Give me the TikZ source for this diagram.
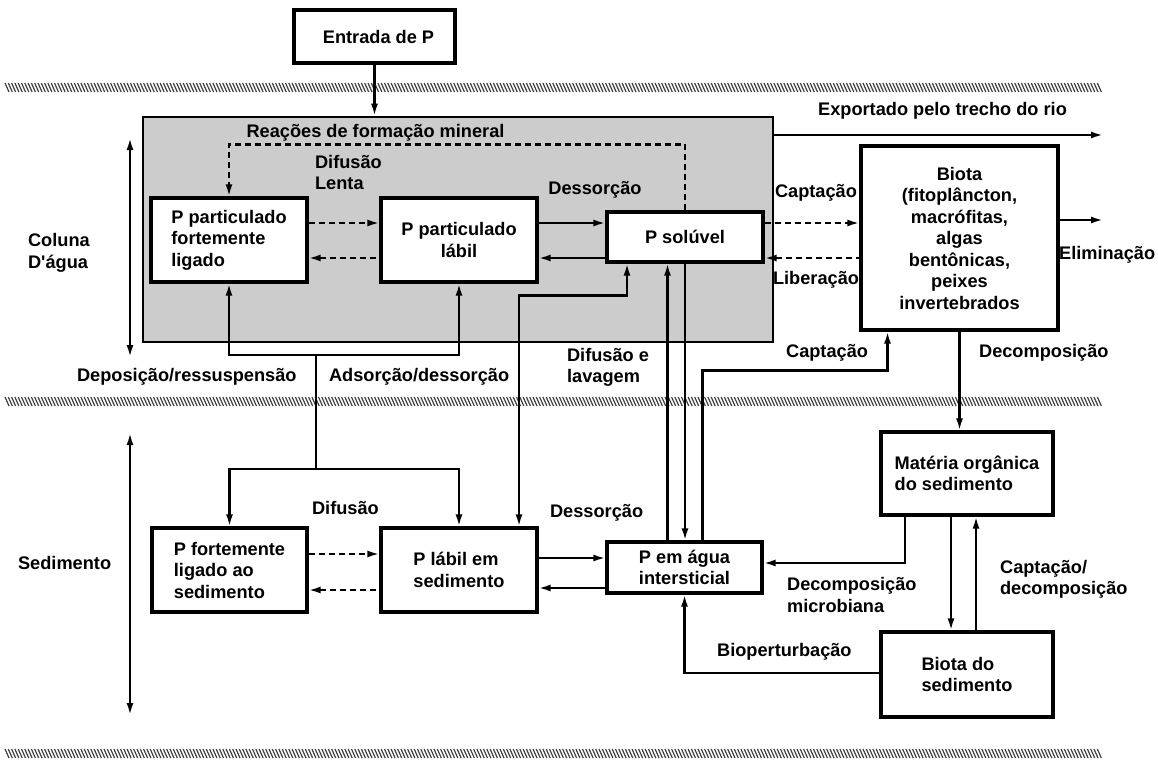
\documentclass[tikz,border=0pt]{standalone}
\usepackage{fontspec}
\setmainfont{Liberation Sans}
\usetikzlibrary{arrows.meta}

\begin{document}
\begin{tikzpicture}[x=1pt,y=-1pt,line width=2.2pt,>={Latex[length=12pt,width=7pt]},
    font=\fontsize{18.2}{21.5}\selectfont\bfseries,
    pbox/.style={draw,line width=3.2pt,fill=white,inner sep=0pt,align=center},
    rot/.style={inner sep=0pt,align=left},
    trac/.style={dash pattern=on 6pt off 4pt}]
    \useasboundingbox (0,0) rectangle (1158,760);

    \foreach \yb in {83,397,749}
      \foreach \xb in {5,8.3,...,1100}
        \path[draw,line width=1.2pt,black!75] (\xb,\yb) -- ++(4,9);

    \node (agua) [draw,line width=2.6pt,fill=gray!40,inner sep=0pt,minimum width=630pt,minimum height=225pt] at (458,229.5) {};

    \node (entrada) [pbox,minimum width=161pt,minimum height=53pt] at (374.5,36.5) {\hspace*{8pt}Entrada de P};
    \node (pfl) [pbox,align=left,minimum width=156pt,minimum height=84pt] at (229,240) {P particulado\\fortemente\\ligado};
    \node (ppl) [pbox,minimum width=156pt,minimum height=84pt] at (459,240) {P particulado\\lábil};
    \node (psol) [pbox,minimum width=156pt,minimum height=50pt] at (685,237) {P solúvel};
    \node (biota) [pbox,minimum width=197pt,minimum height=184pt] at (959.5,238) {Biota\\(fitoplâncton,\\macrófitas,\\algas\\bentônicas,\\peixes\\invertebrados};
    \node (pfs) [pbox,align=left,minimum width=155pt,minimum height=84pt] at (229.5,570) {P fortemente\\ligado ao\\sedimento};
    \node (pls) [pbox,align=left,minimum width=156pt,minimum height=84pt] at (459,570) {P lábil em\\sedimento};
    \node (pai) [pbox,align=left,minimum width=155pt,minimum height=51pt] at (684.5,567.5) {P em água\\intersticial};
    \node (mos) [pbox,align=left,minimum width=172pt,minimum height=83pt] at (967,473.5) {Matéria orgânica\\do sedimento};
    \node (bsed) [pbox,align=left,minimum width=172pt,minimum height=85pt] at (967,674.5) {Biota do\\sedimento};

    \node[rot] (lreac) at (375.5,133) {Reações de formação mineral};
    \node[rot,anchor=west] (ldif) at (314,172.5) {Difusão\\Lenta};
    \node[rot] (ldes) at (595,190) {Dessorção};
    \node[rot] (lexp) at (942.5,111) {Exportado pelo trecho do rio};
    \node[rot] (lcap) at (816,193) {Captação};
    \node[rot] (llib) at (816,280) {Liberação};
    \node[rot,anchor=west] (lelim) at (1058,255) {Eliminação};
    \node[rot,anchor=west] (lcol) at (27,253) {Coluna\\D\textquotesingle água};
    \node[rot,anchor=west] (ldep) at (76,377) {Deposição/ressuspensão};
    \node[rot,anchor=west] (lads) at (328,377) {Adsorção/dessorção};
    \node[rot,anchor=west] (ldl) at (566,367.5) {Difusão e\\lavagem};
    \node[rot,anchor=west] (lcapb) at (785,353) {Captação};
    \node[rot,anchor=west] (ldec) at (978,353) {Decomposição};
    \node[rot,anchor=west] (lsed) at (17,563) {Sedimento};
    \node[rot,anchor=west] (ldifb) at (311,508) {Difusão};
    \node[rot,anchor=west] (ldesb) at (549,513) {Dessorção};
    \node[rot,anchor=west] (ldm) at (786,595) {Decomposição\\microbiana};
    \node[rot,anchor=west] (lcd) at (999,579.5) {Captação/\\decomposição};
    \node[rot,anchor=west] (lbio) at (716,652) {Bioperturbação};

    \coordinate (exp) at (1103,135);
    \coordinate (elim) at (1103,220);
    \coordinate (cola) at (130,138);
    \coordinate (colb) at (130,357);
    \coordinate (seda) at (130,433);
    \coordinate (sedb) at (130,715);
    \coordinate (jt) at (316,355);
    \coordinate (jb) at (316,469);

    \path[->,draw] (entrada) -- (entrada |- agua.north);
    \path[->,draw] (agua.east |- exp) -- (exp);
    \path[->,draw,trac] (psol.north) -- ++(0,-66) -| (pfl.north);
    \path[->,draw,trac] ([yshift=17pt]pfl.east) -- ([yshift=17pt]ppl.west);
    \path[<-,draw,trac] ([yshift=-18pt]pfl.east) -- ([yshift=-18pt]ppl.west);
    \path[->,draw] ([yshift=17pt]ppl.east) -- ([yshift=17pt]ppl.east -| psol.west);
    \path[<-,draw] ([yshift=-18pt]ppl.east) -- ([yshift=-18pt]ppl.east -| psol.west);
    \path[->,draw,trac] ([yshift=14pt]psol.east) -- ([yshift=14pt]psol.east -| biota.west);
    \path[<-,draw,trac] ([yshift=-21pt]psol.east) -- ([yshift=-21pt]psol.east -| biota.west);
    \path[->,draw] (biota.east |- elim) -- (elim);
    \path[<->,draw] (cola) -- (colb);
    \path[<->,draw] (seda) -- (sedb);

    \path[draw] (jt) -- (jb);
    \path[->,draw] (jt) -| (pfl.south);
    \path[->,draw] (jt) -| (ppl.south);
    \path[->,draw] (jb) -| (pfs.north);
    \path[->,draw] (jb) -| (pls.north);

    \path[<->,draw] ([xshift=60pt]pls.north) -- ++(0,-231) -| ([xshift=-58pt]psol.south);
    \path[->,draw] ([xshift=-17pt]pai.north) -- ([xshift=-17pt]pai.north |- psol.south);
    \path[->,draw] (psol.south) -- (psol.south |- pai.north);
    \path[->,draw] ([xshift=18pt]pai.north) -- ++(0,-170) -| ([xshift=-72pt]biota.south);
    \path[->,draw] (biota.south) -- (biota.south |- mos.north);

    \path[->,draw,trac] ([yshift=16pt]pfs.east) -- ([yshift=16pt]pls.west);
    \path[<-,draw,trac] ([yshift=-20pt]pfs.east) -- ([yshift=-20pt]pls.west);
    \path[->,draw] ([yshift=12pt]pls.east) -- ([yshift=12pt]pls.east -| pai.west);
    \path[<-,draw] ([yshift=-18pt]pls.east) -- ([yshift=-18pt]pls.east -| pai.west);
    \path[->,draw] ([xshift=-62pt]mos.south) |- ([yshift=4.5pt]pai.east);
    \path[->,draw] ([xshift=-16pt]mos.south) -- ([xshift=-16pt]bsed.north);
    \path[->,draw] ([xshift=9pt]bsed.north) -- ([xshift=9pt]mos.south);
    \path[->,draw] ([yshift=1.5pt]bsed.west) -| (pai.south);

  \end{tikzpicture}
\end{document}
